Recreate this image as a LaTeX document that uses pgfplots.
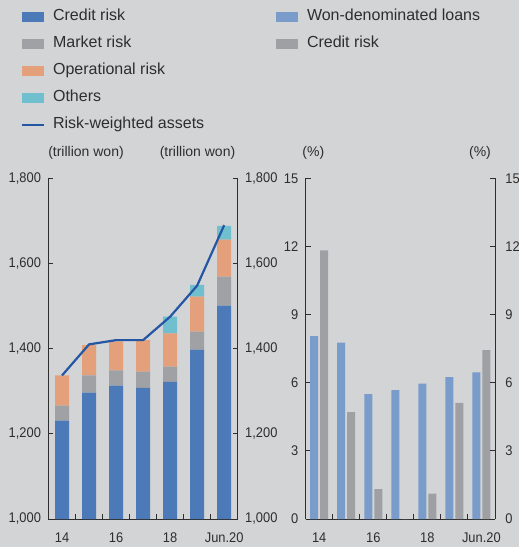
\documentclass[border=0pt]{standalone}
\usepackage{fontspec}
\setmainfont{Liberation Sans}
\newfontfamily\tickfont{Liberation Sans}[FakeStretch=0.92]
\usepackage{pgfplots}
\pgfplotsset{compat=1.18}
\definecolor{bg}{HTML}{D3D4D6}
\definecolor{credit}{HTML}{4C7AB8}
\definecolor{market}{HTML}{A0A1A5}
\definecolor{oper}{HTML}{E3A07B}
\definecolor{others}{HTML}{6FBFCF}
\definecolor{rwa}{HTML}{2456A4}
\definecolor{wonblue}{HTML}{7A9CCB}
\definecolor{crgrey}{HTML}{9FA0A3}
\definecolor{ink}{HTML}{2E2E2E}

\pgfplotsset{
  base/.style={
    scale only axis, width=189.2pt, height=340.7pt, anchor=south west,
    xmin=-0.5, xmax=6.5,
    axis line style={-, ink, line width=0.8pt},
    tick align=inside, major tick length=5pt,
    tick style={ink, line width=0.8pt},
    /pgf/number format/assume math mode=true,
    ticklabel style={font=\tickfont\fontsize{14}{14}\selectfont, text=ink},
    clip=false,
  },
  xbase/.style={
    axis x line*=bottom,
    xtick={0.5,1.5,2.5,3.5,4.5,5.5}, xticklabels={},
    extra x ticks={0,2,4,6}, extra x tick labels={14,16,18,Jun.20},
    extra x tick style={major tick length=0pt, xticklabel style={yshift=-10pt}},
  },
  swatch/.style={legend image code/.code={\fill[##1] (0pt,-5.3pt) rectangle (22pt,5.3pt); \path[draw=none,fill=none] (0pt,0pt) -- (31pt,0pt);}},
  lineswatch/.style={legend image code/.code={\draw[##1] (0pt,0pt) -- (22pt,0pt); \path[draw=none,fill=none] (0pt,0pt) -- (31pt,0pt);}},
  lgd/.style={
    legend cell align=left,
    legend style={draw=none, fill=none, inner sep=0pt, outer sep=0pt,
      column sep=0pt, row sep=0pt, font=\fontsize{16}{16}\selectfont, text=ink,
      nodes={inner xsep=0pt, inner ysep=5.5pt, text height=12pt, text depth=4pt}},
  },
}

\begin{document}
\begin{tikzpicture}
\path[use as bounding box, fill=bg] (0,0) rectangle (519pt,547pt);

% ---------- Left chart: stacked bars ----------
\begin{axis}[base, xbase, at={(48.5pt,28pt)},
  axis y line*=left,
  ymin=1000, ymax=1800,
  ytick={1000,1200,1400,1600,1800},
  yticklabels={{1,000},{1,200},{1,400},{1,600},{1,800}},
  yticklabel style={xshift=-4pt},
  ybar stacked, bar width=14pt,
  lgd, legend style={at={(axis description cs:-0.1454,1.5131)}, anchor=north west},
]
\addplot[fill=credit, draw=none, swatch] coordinates {(0,1231) (1,1297) (2,1313) (3,1308) (4,1322) (5,1398) (6,1501)};
\addlegendentry{Credit risk}
\addplot[fill=market, draw=none, swatch] coordinates {(0,35) (1,40) (2,36) (3,38) (4,36) (5,42) (6,68)};
\addlegendentry{Market risk}
\addplot[fill=oper, draw=none, swatch] coordinates {(0,71) (1,71) (2,68) (3,74) (4,78) (5,82) (6,87)};
\addlegendentry{Operational risk}
\addplot[fill=others, draw=none, swatch] coordinates {(0,0) (1,0) (2,0) (3,0) (4,39) (5,28) (6,32)};
\addlegendentry{Others}
\addlegendimage{lineswatch, rwa, line width=2.2pt}
\addlegendentry{Risk-weighted assets}
\end{axis}

\begin{axis}[base, at={(48.5pt,28pt)},
  axis x line=none, axis y line*=right,
  ymin=1000, ymax=1800,
  ytick={1000,1200,1400,1600,1800},
  yticklabels={{1,000},{1,200},{1,400},{1,600},{1,800}},
  yticklabel style={xshift=4pt},
]
\addplot[rwa, line width=2.2pt, mark=none] coordinates {(0,1337) (1,1410) (2,1420) (3,1420) (4,1475) (5,1548) (6,1690)};
\end{axis}

% ---------- Right chart: grouped bars ----------
\begin{axis}[base, xbase, at={(305.7pt,28pt)},
  axis y line*=left,
  ymin=0, ymax=15,
  ytick={0,3,6,9,12,15},
  yticklabel style={xshift=-4pt},
  lgd, legend style={at={(axis description cs:-0.1569,1.5131)}, anchor=north west},
]
\addplot[ybar, bar width=8pt, bar shift=-5pt, fill=wonblue, draw=none, swatch] coordinates {(0,8.05) (1,7.76) (2,5.50) (3,5.67) (4,5.96) (5,6.25) (6,6.46)};
\addlegendentry{Won-denominated loans}
\addplot[ybar, bar width=8pt, bar shift=5pt, fill=crgrey, draw=none, swatch] coordinates {(0,11.83) (1,4.71) (2,1.32) (3,0) (4,1.12) (5,5.11) (6,7.44)};
\addlegendentry{Credit risk}
\end{axis}

\begin{axis}[base, at={(305.7pt,28pt)},
  axis x line=none, axis y line*=right,
  ymin=0, ymax=15,
  ytick={0,3,6,9,12,15},
  yticklabel style={xshift=7pt},
]
\end{axis}

% unit labels
\node[font=\fontsize{14}{14}\selectfont, text=ink] at (86pt,394.3pt) {(trillion won)};
\node[font=\fontsize{14}{14}\selectfont, text=ink] at (197.5pt,394.3pt) {(trillion won)};
\node[font=\fontsize{14}{14}\selectfont, text=ink] at (313.3pt,394.3pt) {(\%)};
\node[font=\fontsize{14}{14}\selectfont, text=ink] at (480pt,394.3pt) {(\%)};
\end{tikzpicture}
\end{document}
